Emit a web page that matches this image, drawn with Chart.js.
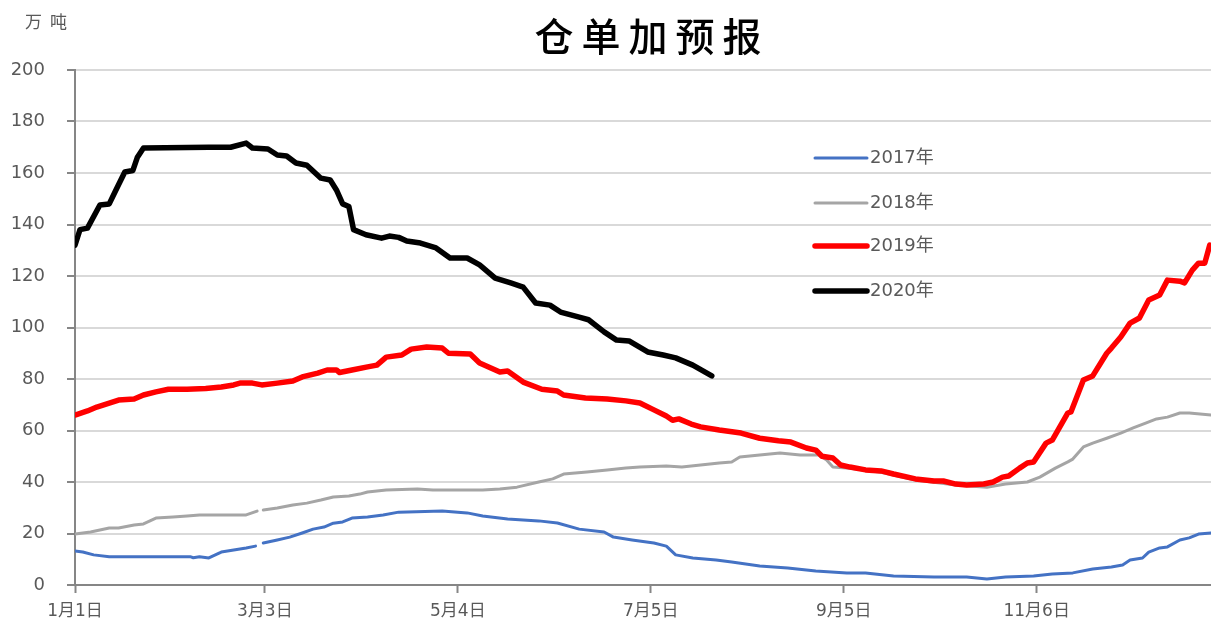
<!DOCTYPE html>
<html>
<head>
<meta charset="utf-8">
<script src="https://cdn.jsdelivr.net/npm/chart.js@4.4.1/dist/chart.umd.min.js"></script>
<style>
  html, body { margin: 0; padding: 0; background: #fff; }
  #wrap { width: 1211px; height: 623px; }
</style>
</head>
<body>
<div id="wrap"><canvas id="grafico" width="1211" height="623"></canvas></div>
<script>
// 数据（从图上读取，单位：万吨，x 为一年中的第几天）
const titulo = "仓单加预报";
const unidad = "万吨";
const seriesNames = ["2017年", "2018年", "2019年", "2020年"];
const tickDays = [0, 61, 123, 185, 247, 309];
const tickLabels = ["1月1日", "3月3日", "5月4日", "7月5日", "9月5日", "11月6日"];

const days2017 = [0, 2.5, 6, 11, 37, 38, 40, 43, 47, 51, 55, 58, 59.5, 60.5, 65, 69, 73, 76.5, 80, 83, 86, 89, 94, 99, 104, 118, 126, 131, 139, 149, 155, 162, 170, 173, 179, 186, 190, 193, 198.5, 206, 211, 220, 229, 238, 248, 254, 263, 276, 286.5, 293, 299, 308, 314, 320.6, 327, 333, 336.6, 339, 343, 345, 348.5, 351, 355, 358, 361, 365];
const vals2017 = [13.2, 12.8, 11.7, 11, 11, 10.6, 11, 10.5, 12.8, 13.6, 14.4, 15.1, null, 16.3, 17.5, 18.6, 20.2, 21.7, 22.5, 24, 24.5, 26, 26.4, 27.2, 28.3, 28.7, 28, 26.8, 25.6, 24.9, 24.1, 21.7, 20.6, 18.6, 17.5, 16.3, 15.1, 11.7, 10.5, 9.7, 8.9, 7.4, 6.6, 5.4, 4.7, 4.7, 3.5, 3.1, 3.1, 2.3, 3.1, 3.5, 4.3, 4.7, 6.2, 7, 7.8, 9.7, 10.5, 12.8, 14.4, 14.8, 17.5, 18.3, 19.8, 20.2];

const days2018 = [0, 5, 11, 14, 19, 22, 26, 31.5, 36, 40, 55, 58.5, 59.5, 60.5, 65, 70, 74.5, 79, 83, 88, 91.5, 94, 100, 110, 115, 131, 136.5, 142, 149, 153.5, 157, 164.5, 171, 177, 181.5, 190, 195, 201, 207, 211, 213.6, 220, 226.5, 233, 239, 241.5, 243.5, 249, 259, 270, 283, 293, 299, 306, 310, 315, 319, 320.6, 324, 327, 331.5, 336, 340, 344, 347.5, 351, 355, 358, 365];
const vals2018 = [19.8, 20.6, 22.1, 22.1, 23.3, 23.7, 26, 26.4, 26.8, 27.2, 27.2, 28.7, null, 29.1, 29.9, 31.1, 31.8, 33, 34.2, 34.6, 35.3, 36.1, 36.9, 37.3, 36.9, 36.9, 37.3, 38, 40, 41.2, 43.1, 43.9, 44.7, 45.4, 45.8, 46.2, 45.8, 46.6, 47.4, 47.8, 49.7, 50.5, 51.3, 50.5, 50.5, 48.5, 45.8, 45.3, 43.8, 40.8, 38.8, 38, 39.2, 40, 41.9, 45.4, 47.8, 48.9, 53.6, 55.1, 57, 59, 61, 62.9, 64.5, 65.2, 66.8, 66.8, 66];

const days2019 = [0, 4, 7, 11, 14, 19, 22, 26, 30, 36, 42, 47, 51, 53, 57, 60, 65, 70, 73, 78, 81, 84, 85, 89, 94, 97, 100, 105, 108, 113, 118, 120, 127, 130, 136.5, 139, 144, 150, 155, 157, 164, 171, 177, 181.5, 186, 190, 192, 194, 198, 201, 207, 214, 220, 226, 230, 235, 238, 240, 243.5, 246, 249, 254, 259, 263, 270, 276, 279, 283, 286.5, 292, 295, 298, 300, 303.5, 306, 308, 312, 314, 319, 320, 324, 327, 331.5, 333, 336, 339, 342, 345, 348.5, 351, 355, 356.5, 359, 361, 363, 364.6];
const vals2019 = [66, 67.6, 69.1, 70.6, 71.8, 72.2, 73.8, 75, 76, 76, 76.3, 76.9, 77.7, 78.4, 78.4, 77.7, 78.4, 79.2, 80.8, 82.3, 83.5, 83.5, 82.5, 83.5, 84.7, 85.4, 88.5, 89.3, 91.6, 92.4, 92, 90, 89.7, 86.2, 82.7, 83.1, 78.8, 76, 75.3, 73.8, 72.6, 72.2, 71.5, 70.7, 68, 65.6, 64, 64.5, 62.5, 61.4, 60.2, 59, 57, 56, 55.5, 53.2, 52.4, 50, 49.3, 46.6, 45.8, 44.7, 44.3, 43.1, 41.2, 40.4, 40.4, 39.2, 38.8, 39.2, 40, 41.9, 42.3, 45.4, 47.4, 47.8, 55.1, 56.3, 66.8, 67.2, 79.6, 81.2, 90, 92, 96.3, 101.7, 103.7, 110.7, 112.6, 118.4, 118, 117.3, 122.3, 125, 125, 132];

const days2020 = [0, 1.6, 4, 8, 11, 13, 16, 18.6, 20, 22, 43, 50, 55, 57, 62, 65, 68, 71, 74.5, 79, 82, 84, 86, 88, 89.5, 93.5, 98.5, 101, 104, 106.6, 111, 116, 120.5, 126, 130, 135, 140, 144, 148, 152.6, 156, 162, 165, 170, 174, 178, 184, 189, 193, 198.5, 204.6];
const vals2020 = [132, 138, 138.6, 147.6, 148, 153, 160.4, 161, 166, 169.7, 170, 170, 171.6, 169.7, 169.3, 167, 166.6, 163.9, 163, 158, 157.3, 153.4, 148, 147, 138, 136, 134.7, 135.5, 135, 133.6, 132.8, 130.9, 127, 127, 124.3, 119.2, 117.3, 115.7, 109.5, 108.7, 106, 104, 103, 98.3, 95.1, 94.8, 90.5, 89.3, 88.2, 85.4, 81.2];

const colores = ["#4472C4", "#A5A5A5", "#FF0000", "#000000"];
const grosores = [3, 3, 5.5, 5.5];
const orden = [3, 4, 2, 1];

const puntos = (dias, vals) => dias.map((d, i) => ({ x: d, y: vals[i] }));
const dataPorSerie = [
  puntos(days2017, vals2017),
  puntos(days2018, vals2018),
  puntos(days2019, vals2019),
  puntos(days2020, vals2020)
];

const gris = "#595959";
const ejeColor = "#868686";

// título, unidad y leyenda dibujados a mano
const extras = {
  id: "extras",
  afterDraw(chart) {
    const ctx = chart.ctx;
    ctx.save();
    ctx.fillStyle = "#000";
    ctx.font = '500 39px "Noto Sans CJK SC"';
    ctx.textAlign = "center";
    ctx.textBaseline = "middle";
    ctx.letterSpacing = "8px";
    ctx.fillText(titulo, 652, 36);

    ctx.fillStyle = gris;
    ctx.font = '17px "Noto Sans CJK SC"';
    ctx.textAlign = "left";
    ctx.letterSpacing = "8px";
    ctx.fillText(unidad, 25, 22);

    ctx.letterSpacing = "0px";
    ctx.font = '18px "DejaVu Sans", "Noto Sans CJK SC"';
    const legendY = [158, 203, 246, 291];
    chart.data.datasets.forEach((ds, i) => {
      const y = legendY[i];
      ctx.strokeStyle = ds.borderColor;
      ctx.lineWidth = ds.borderWidth;
      ctx.lineCap = "round";
      ctx.beginPath();
      ctx.moveTo(815, y);
      ctx.lineTo(867, y);
      ctx.stroke();
      ctx.fillStyle = gris;
      ctx.fillText(ds.label, 870, y);
    });
    ctx.restore();
  }
};

new Chart(document.getElementById("grafico"), {
  type: "line",
  data: {
    datasets: seriesNames.map((name, i) => ({
      label: name,
      data: dataPorSerie[i],
      borderColor: colores[i],
      backgroundColor: colores[i],
      borderWidth: grosores[i],
      pointRadius: 0,
      tension: 0,
      spanGaps: false,
      borderJoinStyle: "round",
      borderCapStyle: "round",
      order: orden[i]
    }))
  },
  options: {
    responsive: false,
    animation: false,
    layout: { padding: { top: 70, left: 0, right: 0, bottom: 0 } },
    plugins: {
      legend: { display: false },
      title: { display: false },
      tooltip: { enabled: false }
    },
    scales: {
      x: {
        type: "linear",
        min: 0,
        max: 365,
        afterBuildTicks: scale => {
          scale.ticks = tickDays.map(v => ({ value: v }));
        },
        afterFit: scale => { scale.height = 38; },
        ticks: {
          autoSkip: false,
          maxRotation: 0,
          padding: 8,
          color: gris,
          font: { family: '"DejaVu Sans", "Noto Sans CJK SC"', size: 17 },
          callback: (value, index) => tickLabels[index]
        },
        grid: {
          drawOnChartArea: false,
          drawTicks: true,
          tickLength: 8,
          tickColor: ejeColor,
          tickWidth: 2
        },
        border: { color: ejeColor, width: 2 }
      },
      y: {
        min: 0,
        max: 200,
        afterFit: scale => { scale.width = 75; },
        ticks: {
          stepSize: 20,
          padding: 22,
          color: gris,
          font: { family: '"DejaVu Sans"', size: 18 }
        },
        grid: {
          color: "#d9d9d9",
          lineWidth: 2,
          tickLength: 8,
          tickColor: ejeColor,
          tickWidth: 2
        },
        border: { color: ejeColor, width: 2 }
      }
    }
  },
  plugins: [extras]
});
</script>
</body>
</html>
